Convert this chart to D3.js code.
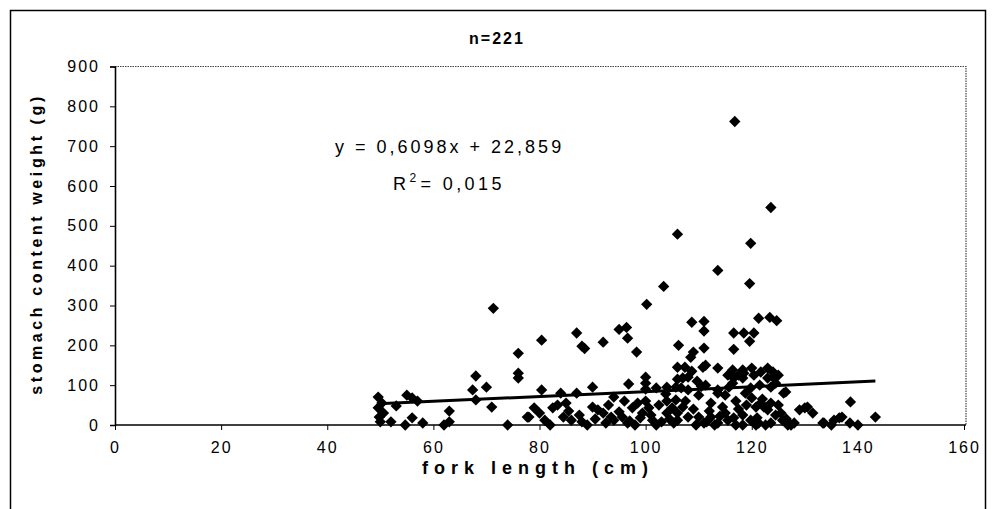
<!DOCTYPE html>
<html><head><meta charset="utf-8">
<script src="https://cdn.jsdelivr.net/npm/d3@7"></script>
<style>body{margin:0;background:#fff}svg{display:block}text{font-family:"Liberation Sans",Arial,sans-serif;fill:#000}</style>
</head><body><svg id="c" width="994" height="509"></svg>
<script>
const forkLength = [49.6,49.6,49.8,50,50.6,50.3,52,53,55,56,54.7,56,58,57,63,62,63,68,67.4,70,68,71,71.3,76,76,76,74,77.7,80.4,87,88,88.5,92,95,96.4,96.6,98.3,100.2,103.4,80.4,84,87,90,94,96.8,100,100,100,102,104,79,78,80,81,82.5,83.4,85,84.5,86,88,89,90,91,92,93,94,95,95.6,96.6,97.5,98.5,99.4,100.6,101.3,102,104,105,106,106,106.2,106,107.4,108.7,108.7,111,111,109,111,108.5,110.8,113.6,113.6,116.8,119.6,119.8,123.6,121.3,123.4,124.7,116.6,118.5,119.6,120.4,116.6,116.4,118.3,120,123,124,126.4,130,131.5,133.6,135.5,138.6,143.3,140,138.5,136.5,135,111.3,118.5,124,125,116.6,111.3,113.6,115.7,119.8,123,123.6,126,112.3,115,112.3,111,113.6,116.6,118.3,120,120.8,121.7,121,120.8,123,125,125.5,123.6,127.4,129,130.5,133.4,137,105.7,106.7,108,110,110.5,105.7,107,106,108,105.3,110,111.5,114,113,115.5,117,118.3,119.8,122,122.3,123.6,124.5,125.8,126.8,121.3,122.6,116.4,118.3,115.5,117.5,120.4,121.7,113.6,115,103.8,108,107,106,109.7,97,98,99,100,101,102.5,103,104.5,107.5,109,109.5,112,114.5,117.5,119,117,118.8,121.5,124.5,126.5,128,85.5,87.5,92.5,93.5,96,82,90.5,104];
const stomachWeight = [70,43,20,8,30,55,8,48,75,68,0,18,5,60,35,0,8,123,88,95,63,45,293,180,130,118,0,20,213,231,198,192,208,240,245,218,183,303,348,88,80,80,95,70,103,120,105,90,93,95,43,20,30,12,43,50,55,20,12,8,0,45,38,30,50,12,33,20,5,43,55,30,43,12,0,30,43,12,479,200,145,145,135,258,260,236,183,193,170,145,143,388,762,355,456,546,268,270,262,231,231,210,231,190,138,138,143,143,120,83,43,30,5,12,58,20,0,5,18,0,150,130,133,125,118,100,88,95,93,118,95,80,55,30,20,5,5,18,0,68,45,55,18,0,38,50,30,5,0,38,45,5,20,95,93,88,75,97,63,45,30,20,5,20,8,22,0,12,0,25,12,65,45,55,25,12,0,5,0,105,118,125,125,125,133,80,75,78,120,118,115,110,10,0,18,60,25,50,8,15,60,40,0,35,45,40,50,60,80,100,105,15,5,35,25,5,20,60,0,15,60];
const xTicks = [0,20,40,60,80,100,120,140,160];
const yTicks = [0,100,200,300,400,500,600,700,800,900];
const trendSlope = [0.6098];
const trendIntercept = [22.859];
const titleText = "n=221";
const eqText = "y = 0,6098x + 22,859";
const r2Value = "= 0,015";

const svg = d3.select("#c");
svg.append("rect").attr("x",10.5).attr("y",10.5).attr("width",975).attr("height",510)
  .attr("fill","none").attr("stroke","#000").attr("stroke-width",1.5);

const x = d3.scaleLinear().domain([0,160]).range([115,964]);
const y = d3.scaleLinear().domain([0,900]).range([425,66.5]);

svg.append("path").attr("d",`M${x(0)},${y(900)}H${x(160)+2}V${y(0)}`)
  .attr("fill","none").attr("stroke","#444").attr("stroke-width",1.2).attr("stroke-dasharray","1.5,1");

const xAxis = svg.append("g").attr("transform",`translate(0,${y(0)})`)
  .call(d3.axisBottom(x).tickValues(xTicks).tickSize(5).tickPadding(12).tickFormat(d3.format("d")));
const yAxis = svg.append("g").attr("transform",`translate(${x(0)},0)`)
  .call(d3.axisLeft(y).tickValues(yTicks).tickSize(5).tickPadding(10).tickFormat(d3.format("d")));
[xAxis,yAxis].forEach(g=>{
  g.select(".domain").attr("stroke","#000").attr("stroke-width",1.6);
  g.selectAll(".tick line").attr("stroke","#000").attr("stroke-width",1);
  g.selectAll(".tick text").attr("font-size",16).attr("letter-spacing","2px").attr("fill","#000");
});
xAxis.select(".domain").attr("d",`M${x(0)},0H${x(160)+2}`);

const sym = d3.symbol().type(d3.symbolSquare).size(64);
svg.append("g").selectAll("path").data(forkLength.map((v,i)=>[v,stomachWeight[i]]))
  .join("path").attr("d",sym)
  .attr("transform",d=>`translate(${x(d[0])},${y(d[1])}) rotate(45)`)
  .attr("fill","#000");

const x0 = d3.min(forkLength), x1 = d3.max(forkLength);
const f = v => trendSlope[0]*v + trendIntercept[0];
svg.append("line").attr("x1",x(x0)).attr("y1",y(f(x0))).attr("x2",x(x1)).attr("y2",y(f(x1)))
  .attr("stroke","#000").attr("stroke-width",3);

svg.append("text").attr("x",497).attr("y",44).attr("text-anchor","middle")
  .attr("font-size",16).attr("font-weight","bold").attr("letter-spacing","2px").text(titleText);
svg.append("text").attr("x",335).attr("y",153).attr("font-size",18)
  .attr("letter-spacing","3px").text(eqText);
const r2 = svg.append("text").attr("x",393).attr("y",190).attr("font-size",18).attr("letter-spacing","3.4px");
r2.append("tspan").text("R");
r2.append("tspan").attr("dy",-8).attr("font-size",12).text("2");
r2.append("tspan").attr("dy",8).attr("dx",1).text(r2Value);

svg.append("text").attr("transform",`translate(42,${(y(0)+y(900))/2}) rotate(-90)`)
  .attr("text-anchor","middle").attr("font-size",16).attr("font-weight","bold")
  .attr("textLength",298).attr("lengthAdjust","spacing").text("stomach content weight (g)");
svg.append("text").attr("x",535).attr("y",474).attr("text-anchor","middle")
  .attr("font-size",18).attr("font-weight","bold")
  .attr("textLength",226).attr("lengthAdjust","spacing").text("fork length (cm)");
</script></body></html>
